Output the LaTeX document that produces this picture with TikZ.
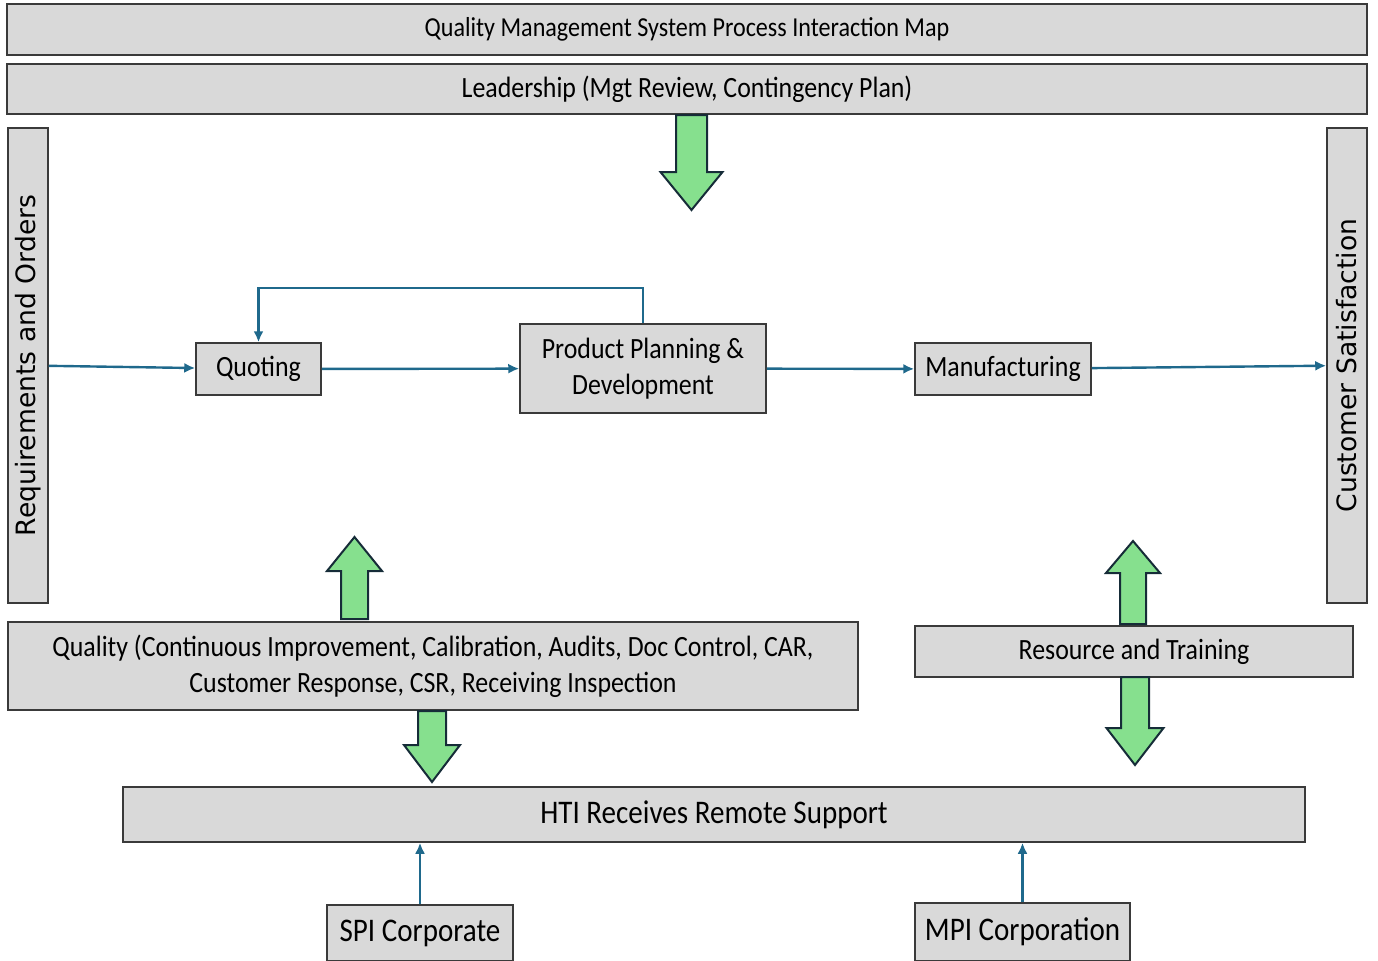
\documentclass[tikz,border=0pt]{standalone}
\usepackage{fontspec}
\setmainfont{Carlito}[FakeStretch=0.88]
\newfontfamily\sidefont{DejaVu Sans}
\usepackage{tikz}
\usetikzlibrary{arrows.meta}

\definecolor{boxgray}{RGB}{217,217,217}
\definecolor{boxline}{RGB}{58,58,58}
\definecolor{flowblue}{RGB}{31,105,140}
\definecolor{arrowgreen}{RGB}{134,224,142}
\definecolor{arrowline}{RGB}{22,44,56}

\tikzset{
  box/.style={draw=boxline, fill=boxgray, line width=0.75pt, inner sep=2pt,
    font=\fontsize{14.7}{18}\selectfont, align=center},
  bigtext/.style={font=\fontsize{16.5}{18}\selectfont},
  sidebox/.style={box, rotate=90, font=\sidefont\fontsize{13.3}{15}\selectfont,
    minimum width=237.5pt, minimum height=20pt},
  flow/.style={draw=flowblue, line width=1.2pt, -{Latex[length=5.5pt,width=5pt]}},
  fat/.style={draw=arrowline, fill=arrowgreen, line width=1pt, line join=miter}
}

% block arrow: centre x, start y, head base y, tip y, half shaft, half head
\newcommand{\fatarrow}[6]{%
  \filldraw[fat] ({#1-#5},#2) -- ({#1-#5},#3) -- ({#1-#6},#3) -- (#1,#4)
    -- ({#1+#6},#3) -- ({#1+#5},#3) -- ({#1+#5},#2) -- cycle;}

\begin{document}
\begin{tikzpicture}[x=0.5pt,y=-0.5pt]
\useasboundingbox (0,0) rectangle (1378,960);
\clip (0,0) rectangle (1378,960);

% top bands
\node[box, font=\fontsize{13.7}{18}\selectfont, minimum width=680pt, minimum height=25.5pt]
  (title) at (687,29.5) {Quality Management System Process Interaction Map};
\node[box, minimum width=680pt, minimum height=25pt] (lead) at (687,89)
  {Leadership (Mgt Review, Contingency Plan)};

% side bands
\node[sidebox] (req) at (28,365.5) {Requirements and Orders};
\node[sidebox] (cust) at (1347,365.5) {Customer Satisfaction};

% main process
\node[box, minimum width=62.5pt, minimum height=26pt] (quote) at (258.5,369) {Quoting};
\node[box, minimum width=123pt, minimum height=44.5pt] (ppd) at (643,368.5)
  {Product Planning \&\\ Development};
\node[box, minimum width=88pt, minimum height=26pt] (manuf) at (1003,369) {Manufacturing};

\draw[flow] (req) -- (quote);
\draw[flow] (quote) -- (ppd);
\draw[flow] (ppd) -- (manuf);
\draw[flow] (manuf) -- (cust);
\draw[flow] (ppd.north) -- ++(0,-35) -| (quote.north);

% support
\node[box, minimum width=425pt, minimum height=44pt] (qual) at (433,666)
  {Quality (Continuous Improvement, Calibration, Audits, Doc Control, CAR,\\
   Customer Response, CSR, Receiving Inspection};
\node[box, minimum width=219pt, minimum height=25.5pt] (res) at (1134,651.5)
  {Resource and Training};
\node[box, bigtext, minimum width=591pt, minimum height=27.5pt] (hti) at (714,814.5)
  {HTI Receives Remote Support};
\node[box, bigtext, minimum width=93pt, minimum height=28pt] (spi) at (420,933) {SPI Corporate};
\node[box, bigtext, minimum width=107.5pt, minimum height=29pt] (mpi) at (1022.5,932) {MPI Corporation};

\draw[flow] (spi.north) -- (spi.north |- hti.south);
\draw[flow] (mpi.north) -- (mpi.north |- hti.south);

% green block arrows
\fatarrow{691.5}{115}{172}{210}{15.5}{31}
\fatarrow{354.5}{619}{571}{537}{13.5}{27.5}
\fatarrow{432}{711}{745}{782}{14}{28}
\fatarrow{1133}{624}{573}{541}{13}{27}
\fatarrow{1135}{677}{728}{765}{14}{28.5}
\end{tikzpicture}
\end{document}
